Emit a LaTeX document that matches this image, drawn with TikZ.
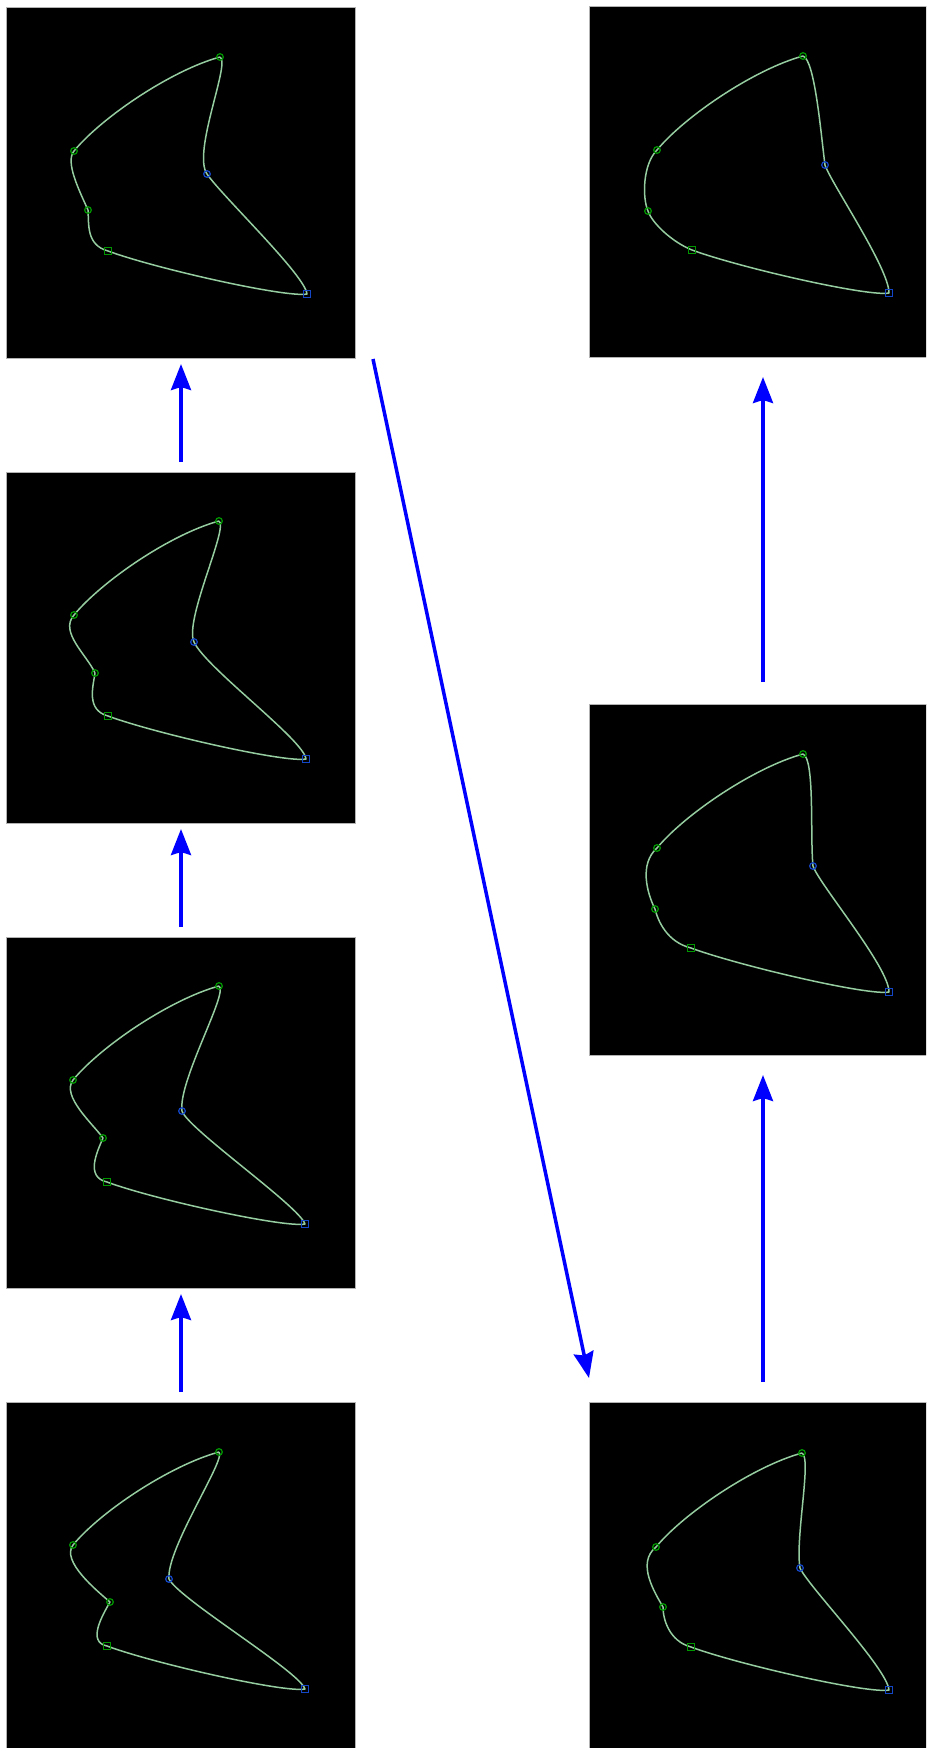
\documentclass[tikz,border=0pt]{standalone}
\usepackage{tikz}
\usetikzlibrary{arrows.meta}
\usepackage{xcolor}
\definecolor{trackgreen}{RGB}{150,205,160}
\definecolor{markgreen}{RGB}{0,150,0}
\definecolor{markblue}{RGB}{20,70,200}
\definecolor{flowblue}{RGB}{0,0,255}

\begin{document}
\begin{tikzpicture}[x=0.2mm, y=-0.2mm,
    panel/.style={rectangle, draw=gray!60, fill=black, line width=0.2mm,
        minimum width=69.6mm, minimum height=70.2mm, inner sep=0pt, outer sep=0pt},
    track/.style={trackgreen, line width=0.3mm, line join=round},
    gmark/.style={markgreen, line width=0.25mm},
    bmark/.style={markblue, line width=0.25mm},
    flow/.style={-{Stealth[length=5.2mm, width=4mm, inset=0.6mm]}, flowblue, line width=0.7mm}
]
\useasboundingbox (0,0) rectangle (926,1748);
\clip (0,0) rectangle (926,1748);

% left column, top to bottom
\node[panel] (left1) at (181,182.5) {};
\node[panel] (left2) at (181,647.5) {};
\node[panel] (left3) at (181,1112.5) {};
\node[panel] (left4) at (181,1577.5) {};
% right column
\node[panel] (right1) at (763,181.5) {};
\node[panel] (right2) at (763,879.5) {};
\node[panel] (right3) at (763,1577.5) {};

\begin{scope}[shift={(left1.north west)}]
\draw[track] (213,50) .. controls +(11,5) and +(-15,-22) .. (200,167)
  .. controls +(15,22) and +(-2,-19) .. (300,287)
  .. controls +(-20,4) and +(49,18) .. (101,244)
  .. controls +(-22,-6) and +(1,14) .. (81,203)
  .. controls +(-9,-20) and +(-9,11) .. (67,144)
  .. controls +(28,-34) and +(-48,13) .. (213,50);
\draw[gmark] (213,50) circle[radius=3.3] (67,144) circle[radius=3.3] (81,203) circle[radius=3.3];
\draw[gmark] (101,244) +(-3.3,-3.3) rectangle +(3.3,3.3);
\draw[bmark] (200,167) circle[radius=3.3];
\draw[bmark] (300,287) +(-3.3,-3.3) rectangle +(3.3,3.3);
\end{scope}

\begin{scope}[shift={(left2.north west)}]
\draw[track] (212,49) .. controls +(10,6) and +(-10,-22) .. (187,170)
  .. controls +(12,26) and +(-2,-19) .. (299,287)
  .. controls +(-20,4) and +(49,18) .. (101,244)
  .. controls +(-22,-6) and +(-2,14) .. (88,201)
  .. controls +(-8,-18) and +(-15,17) .. (67,143)
  .. controls +(28,-34) and +(-48,13) .. (212,49);
\draw[gmark] (212,49) circle[radius=3.3] (67,143) circle[radius=3.3] (88,201) circle[radius=3.3];
\draw[gmark] (101,244) +(-3.3,-3.3) rectangle +(3.3,3.3);
\draw[bmark] (187,170) circle[radius=3.3];
\draw[bmark] (299,287) +(-3.3,-3.3) rectangle +(3.3,3.3);
\end{scope}

\begin{scope}[shift={(left3.north west)}]
\draw[track] (212,49) .. controls +(10,6) and +(-4,-30) .. (175,174)
  .. controls +(6,18) and +(-6,-18) .. (298,287)
  .. controls +(-20,4) and +(49,18) .. (100,245)
  .. controls +(-22,-5) and +(-6,14) .. (96,201)
  .. controls +(-10,-14) and +(-12,16) .. (66,143)
  .. controls +(28,-34) and +(-48,13) .. (212,49);
\draw[gmark] (212,49) circle[radius=3.3] (66,143) circle[radius=3.3] (96,201) circle[radius=3.3];
\draw[gmark] (100,245) +(-3.3,-3.3) rectangle +(3.3,3.3);
\draw[bmark] (175,174) circle[radius=3.3];
\draw[bmark] (298,287) +(-3.3,-3.3) rectangle +(3.3,3.3);
\end{scope}

\begin{scope}[shift={(left4.north west)}]
\draw[track] (212,50) .. controls +(8,6) and +(-3,-30) .. (162,177)
  .. controls +(10,20) and +(-6,-18) .. (298,287)
  .. controls +(-20,4) and +(49,18) .. (100,244)
  .. controls +(-20,-4) and +(-8,14) .. (103,200)
  .. controls +(-14,-12) and +(-12,16) .. (66,143)
  .. controls +(28,-34) and +(-48,13) .. (212,50);
\draw[gmark] (212,50) circle[radius=3.3] (66,143) circle[radius=3.3] (103,200) circle[radius=3.3];
\draw[gmark] (100,244) +(-3.3,-3.3) rectangle +(3.3,3.3);
\draw[bmark] (162,177) circle[radius=3.3];
\draw[bmark] (298,287) +(-3.3,-3.3) rectangle +(3.3,3.3);
\end{scope}

\begin{scope}[shift={(right1.north west)}]
\draw[track] (214,50) .. controls +(12,4) and +(-4,-30) .. (236,159)
  .. controls +(6,18) and +(0,-25) .. (300,287)
  .. controls +(-20,4) and +(49,18) .. (103,244)
  .. controls +(-20,-8) and +(4,12) .. (59,205)
  .. controls +(-6,-14) and +(-14,14) .. (68,144)
  .. controls +(28,-34) and +(-48,13) .. (214,50);
\draw[gmark] (214,50) circle[radius=3.3] (68,144) circle[radius=3.3] (59,205) circle[radius=3.3];
\draw[gmark] (103,244) +(-3.3,-3.3) rectangle +(3.3,3.3);
\draw[bmark] (236,159) circle[radius=3.3];
\draw[bmark] (300,287) +(-3.3,-3.3) rectangle +(3.3,3.3);
\end{scope}

\begin{scope}[shift={(right2.north west)}]
\draw[track] (214,50) .. controls +(12,5) and +(-3,-30) .. (224,162)
  .. controls +(6,18) and +(0,-25) .. (300,288)
  .. controls +(-20,4) and +(49,18) .. (102,244)
  .. controls +(-24,-6) and +(3,12) .. (66,205)
  .. controls +(-8,-16) and +(-18,16) .. (68,144)
  .. controls +(28,-34) and +(-48,13) .. (214,50);
\draw[gmark] (214,50) circle[radius=3.3] (68,144) circle[radius=3.3] (66,205) circle[radius=3.3];
\draw[gmark] (102,244) +(-3.3,-3.3) rectangle +(3.3,3.3);
\draw[bmark] (224,162) circle[radius=3.3];
\draw[bmark] (300,288) +(-3.3,-3.3) rectangle +(3.3,3.3);
\end{scope}

\begin{scope}[shift={(right3.north west)}]
\draw[track] (213,51) .. controls +(10,5) and +(-5,-30) .. (211,166)
  .. controls +(8,18) and +(-2,-22) .. (300,288)
  .. controls +(-20,4) and +(49,18) .. (102,245)
  .. controls +(-22,-6) and +(0,12) .. (74,205)
  .. controls +(-8,-14) and +(-20,16) .. (67,145)
  .. controls +(28,-34) and +(-48,13) .. (213,51);
\draw[gmark] (213,51) circle[radius=3.3] (67,145) circle[radius=3.3] (74,205) circle[radius=3.3];
\draw[gmark] (102,245) +(-3.3,-3.3) rectangle +(3.3,3.3);
\draw[bmark] (211,166) circle[radius=3.3];
\draw[bmark] (300,288) +(-3.3,-3.3) rectangle +(3.3,3.3);
\end{scope}

\draw[flow, shorten <=2mm, shorten >=1.2mm] (left4) -- (left3);
\draw[flow, shorten <=2mm, shorten >=1.2mm] (left3) -- (left2);
\draw[flow, shorten <=2mm, shorten >=1.2mm] (left2) -- (left1);
\draw[flow] ([shift={(18,1)}]left1.south east) -- ([shift={(0,-24)}]right3.north west);
\draw[flow, shorten <=4mm, shorten >=4mm] (right3) -- (right2);
\draw[flow, shorten <=4.4mm, shorten >=4mm] (right2) -- (right1);

\end{tikzpicture}
\end{document}
